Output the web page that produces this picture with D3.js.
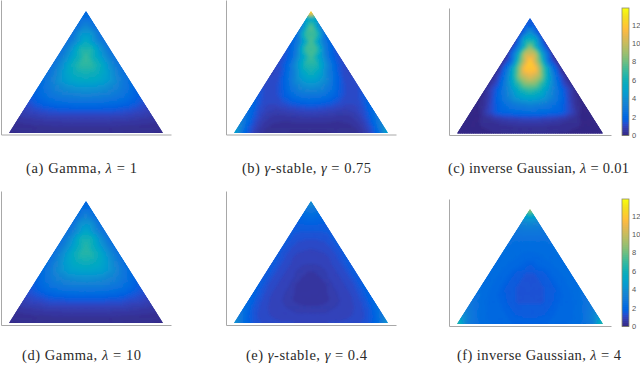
<!DOCTYPE html>
<html>
<head>
<meta charset="utf-8">
<style>
html, body { margin: 0; padding: 0; background: #fff; }
svg { display: block; }
</style>
</head>
<body>
<script src="https://cdn.jsdelivr.net/npm/d3@7"></script>
<script>
// density, on a triangular lattice of 17 rows from apex to base.
// each row goes from the edge to the centre line, the other half is the mirror image.
const gammaOne = [
    [2.0], [2.4], [2.3, 3.6], [2.4, 4.4], [2.5, 3.9, 5.5], [2.5, 4.2, 6.3],
    [2.5, 3.9, 5.5, 7.0], [2.5, 3.9, 5.6, 6.8], [2.4, 3.6, 5.0, 5.9, 6.2],
    [2.3, 3.3, 4.4, 5.1, 5.4], [2.0, 2.8, 3.5, 4.0, 4.3, 4.4], [1.7, 2.3, 2.8, 3.1, 3.3, 3.4],
    [1.3, 1.7, 2.0, 2.2, 2.3, 2.4, 2.4], [.9, 1.1, 1.3, 1.4, 1.5, 1.5, 1.5],
    [.55, .65, .7, .8, .8, .85, .85, .85], [.3, .35, .4, .4, .45, .45, .45, .45],
    [.2, .2, .2, .2, .2, .2, .2, .2, .2]
];
const stableHigh = [
    [13.8], [4.6], [2.8, 7.6], [2.1, 7.0], [1.7, 3.8, 7.4], [1.4, 2.9, 7.1],
    [1.2, 2.1, 4.6, 7.2], [1.1, 1.8, 3.9, 6.5], [1.0, 1.4, 2.8, 4.9, 6.0],
    [1.1, 1.2, 2.1, 3.8, 4.8], [1.3, 1.1, 1.6, 2.7, 3.6, 3.9], [1.6, 1.1, 1.3, 1.9, 2.5, 2.8],
    [1.9, 1.2, 1.1, 1.3, 1.6, 1.8, 1.9], [2.3, 1.3, .9, .8, .9, 1.0, 1.1],
    [2.9, 1.5, .8, .55, .5, .55, .6, .6], [3.8, 1.7, .8, .45, .35, .3, .3, .3],
    [5.2, 2.0, .9, .4, .3, .25, .2, .2, .2]
];
const inverseLow = [
    [1.6], [1.5], [.9, 4.0], [.7, 5.5], [.4, 4.0, 8.5], [.3, 4.0, 10],
    [.2, 2.2, 8.0, 12], [.2, 2.5, 7.0, 11.8], [.2, 1.8, 5.0, 9.3, 10.8],
    [.2, 1.3, 3.5, 6.3, 8.6], [.2, 1.2, 2.6, 4.2, 6.0, 6.8], [.1, .7, 2.0, 3.2, 4.4, 5.0],
    [.1, .4, 1.4, 2.2, 2.8, 3.2, 3.4], [.1, .2, 1.0, 1.8, 2.0, 2.2, 2.3],
    [.1, .1, .3, .5, .7, .8, .9, .9], [.1, .1, .2, .25, .3, .35, .4, .4],
    [.1, .1, .1, .15, .2, .2, .2, .25, .25]
];
const gammaTen = [
    [1.9], [2.3], [2.2, 3.4], [2.3, 4.2], [2.4, 3.8, 5.2], [2.4, 4.0, 6.0],
    [2.4, 3.8, 5.3, 6.6], [2.4, 3.8, 5.3, 6.5], [2.3, 3.5, 4.8, 5.6, 5.9],
    [2.2, 3.2, 4.2, 4.9, 5.1], [1.9, 2.7, 3.4, 3.8, 4.1, 4.2], [1.6, 2.2, 2.7, 3.0, 3.2, 3.2],
    [1.3, 1.6, 1.9, 2.1, 2.2, 2.3, 2.3], [.9, 1.1, 1.2, 1.4, 1.4, 1.5, 1.5],
    [.55, .65, .7, .8, .8, .85, .85, .85], [.3, .35, .4, .4, .45, .45, .45, .45],
    [.2, .2, .2, .2, .2, .2, .2, .2, .2]
];
const stableLow = [
    [4.2], [2.8], [2.0, 2.2], [1.7, 1.75], [1.6, 1.5, 1.5], [1.6, 1.35, 1.3],
    [1.6, 1.3, 1.15, 1.1], [1.6, 1.25, 1.05, 1.0], [1.7, 1.3, 1.05, .95, .9],
    [1.7, 1.3, 1.05, .85, .7], [1.7, 1.3, 1.05, .9, .65, .5], [1.8, 1.3, 1.05, .9, .6, .45],
    [1.9, 1.35, 1.05, .9, .7, .5, .45], [2.1, 1.4, 1.1, .95, .75, .55, .5],
    [2.4, 1.5, 1.15, 1, .9, .8, .7, .7], [3.0, 1.7, 1.25, 1.1, 1, .95, .9, .9],
    [4.4, 2.2, 1.5, 1.25, 1.15, 1.1, 1.1, 1.05, 1.05]
];
const inverseHigh = [
    [9.4], [4.8], [3.4, 3.6], [2.8, 2.9], [2.5, 2.5, 2.5], [2.4, 2.3, 2.3],
    [2.4, 2.25, 2.2, 2.15], [2.35, 2.2, 2.15, 2.0], [2.35, 2.2, 2.1, 1.9, 1.6],
    [2.35, 2.2, 2.0, 1.6, 1.5], [2.35, 2.2, 2.0, 1.6, 1.5, 1.45], [2.4, 2.2, 2.0, 1.6, 1.5, 1.45],
    [2.5, 2.25, 2.05, 1.8, 1.55, 1.45, 1.45], [2.8, 2.35, 2.1, 2.0, 1.7, 1.5, 1.5],
    [3.3, 2.5, 2.2, 2.05, 1.95, 1.7, 1.55, 1.55], [4.3, 2.9, 2.3, 2.1, 2.05, 1.95, 1.75, 1.7],
    [6.8, 3.3, 2.5, 2.25, 2.15, 2.05, 1.95, 1.8, 1.8]
];

const colorTicks = [0, 2, 4, 6, 8, 10, 12];
const colorMax = 13.8;

// matlab parula, 64 levels
const parula = [
    [.2081, .1663, .5292], [.2116, .1898, .5777], [.2123, .2138, .6270], [.2081, .2386, .6771],
    [.1959, .2645, .7279], [.1707, .2919, .7792], [.1253, .3242, .8303], [.0591, .3598, .8683],
    [.0117, .3875, .8820], [.0060, .4086, .8828], [.0165, .4266, .8786], [.0329, .4430, .8720],
    [.0498, .4586, .8641], [.0629, .4737, .8554], [.0723, .4887, .8467], [.0779, .5040, .8384],
    [.0793, .5200, .8312], [.0749, .5375, .8263], [.0641, .5570, .8240], [.0488, .5772, .8228],
    [.0343, .5966, .8199], [.0265, .6137, .8135], [.0239, .6287, .8038], [.0231, .6418, .7913],
    [.0228, .6535, .7768], [.0267, .6642, .7607], [.0384, .6743, .7436], [.0590, .6838, .7254],
    [.0843, .6928, .7062], [.1133, .7015, .6859], [.1453, .7098, .6646], [.1801, .7177, .6424],
    [.2178, .7250, .6193], [.2586, .7317, .5954], [.3022, .7376, .5712], [.3482, .7424, .5473],
    [.3953, .7459, .5244], [.4420, .7481, .5033], [.4871, .7491, .4840], [.5300, .7491, .4661],
    [.5709, .7485, .4494], [.6099, .7473, .4337], [.6473, .7456, .4188], [.6834, .7435, .4044],
    [.7184, .7411, .3905], [.7525, .7384, .3768], [.7858, .7356, .3633], [.8185, .7327, .3498],
    [.8507, .7299, .3360], [.8824, .7274, .3217], [.9139, .7258, .3063], [.9450, .7261, .2886],
    [.9739, .7314, .2666], [.9938, .7455, .2403], [.9990, .7653, .2164], [.9955, .7861, .1967],
    [.9880, .8066, .1794], [.9789, .8271, .1633], [.9697, .8481, .1475], [.9626, .8705, .1309],
    [.9589, .8949, .1132], [.9598, .9218, .0948], [.9661, .9514, .0755], [.9763, .9831, .0538]
].map(c => d3.rgb(c[0] * 255, c[1] * 255, c[2] * 255).formatHex());

const panels = [
    {values: gammaOne, tri: [9, 163, 11, 133], frame: [1, 171, 0, 134.5], text: ["(a) Gamma, ", "λ", " = 1"], textX: [26, 137], baseY: 173},
    {values: stableHigh, tri: [234, 388, 11, 133], frame: [226, 396, 0, 134.5], text: ["(b) ", "γ", "-stable, ", "γ", " = 0.75"], textX: [242, 371], baseY: 173},
    {values: inverseLow, tri: [457, 603, 18, 133.5], frame: [449, 611, 8, 135], text: ["(c) inverse Gaussian, ", "λ", " = 0.01"], textX: [448, 629], baseY: 173, bar: [8, 135.5]},
    {values: gammaTen, tri: [9, 163, 201, 323], frame: [1, 171, 191, 325], text: ["(d) Gamma, ", "λ", " = 10"], textX: [22, 141], baseY: 360},
    {values: stableLow, tri: [234, 388, 201, 323], frame: [226, 396, 191, 325], text: ["(e) ", "γ", "-stable, ", "γ", " = 0.4"], textX: [246, 367], baseY: 360},
    {values: inverseHigh, tri: [457, 603, 209, 324], frame: [449, 611, 199, 326], text: ["(f) inverse Gaussian, ", "λ", " = 4"], textX: [457, 621], baseY: 360, bar: [199, 326.5]}
];

const width = 640;
const height = 366;
const rows = 16;
const sub = 5;

const svg = d3.select("body").append("svg")
    .attr("width", width)
    .attr("height", height)
    .attr("viewBox", [0, 0, width, height]);

svg.append("filter").attr("id", "soft")
    .append("feGaussianBlur").attr("stdDeviation", 1.6);

const color = d3.scaleQuantize().domain([0, colorMax]).range(parula);

function valueAt(values, i, j) {
    return values[i][Math.min(j, i - j)];
}

function drawPanel(p, idx) {
    const x = d3.scaleLinear().domain([-1, 1]).range([p.tri[0], p.tri[1]]);
    const y = d3.scaleLinear().domain([0, 1]).range([p.tri[2], p.tri[3]]);
    const g = svg.append("g");

    g.append("clipPath").attr("id", `tri${idx}`)
        .append("path")
        .attr("d", d3.line()([[x(0), y(0)], [x(-1), y(1)], [x(1), y(1)]]) + "Z");

    // one path per colour level, so the shading stays a few dozen elements
    const paths = new Map();
    function addTriangle(a, b, c) {
        const v = (a.v + b.v + c.v) / 3;
        const key = color(v);
        if (!paths.has(key)) paths.set(key, d3.path());
        const path = paths.get(key);
        path.moveTo(x(a.u), y(a.t));
        path.lineTo(x(b.u), y(b.t));
        path.lineTo(x(c.u), y(c.t));
        path.closePath();
    }
    // barycentric mix of three lattice nodes
    function mix(a, b, c, m, n) {
        const k = sub - m - n;
        return {
            u: (a.u * k + b.u * m + c.u * n) / sub,
            t: (a.t * k + b.t * m + c.t * n) / sub,
            v: (a.v * k + b.v * m + c.v * n) / sub
        };
    }
    function shade(a, b, c) {
        for (let m = 0; m < sub; m++) {
            for (let n = 0; n < sub - m; n++) {
                addTriangle(mix(a, b, c, m, n), mix(a, b, c, m + 1, n), mix(a, b, c, m, n + 1));
                if (m + n < sub - 1) {
                    addTriangle(mix(a, b, c, m + 1, n), mix(a, b, c, m, n + 1), mix(a, b, c, m + 1, n + 1));
                }
            }
        }
    }
    const node = (i, j) => ({u: (j - i / 2) / (rows / 2), t: i / rows, v: valueAt(p.values, i, j)});
    for (let i = 0; i < rows; i++) {
        for (let j = 0; j <= i; j++) {
            shade(node(i, j), node(i + 1, j), node(i + 1, j + 1));
            if (j < i) shade(node(i, j), node(i, j + 1), node(i + 1, j + 1));
        }
    }

    // sharp copy underneath keeps the triangle edge solid under the softened copy
    const clipped = g.append("g").attr("clip-path", `url(#tri${idx})`);
    [null, "url(#soft)"].forEach(f => {
        clipped.append("g")
            .attr("filter", f)
            .selectAll("path")
            .data(parula.filter(c => paths.has(c)))
            .join("path")
            .attr("d", c => paths.get(c).toString())
            .attr("fill", c => c)
            .attr("stroke", c => c)
            .attr("stroke-width", 0.7);
    });

    // bare matlab axes: a left and a bottom line, no ticks
    const xAxis = d3.axisBottom(d3.scaleLinear().range([p.frame[0], p.frame[1]])).tickValues([]).tickSizeOuter(0);
    const yAxis = d3.axisLeft(d3.scaleLinear().range([p.frame[3], p.frame[2]])).tickValues([]).tickSizeOuter(0);
    g.append("g").attr("transform", `translate(0,${p.frame[3]})`).call(xAxis)
        .select(".domain").attr("stroke", "#a8a8a8").attr("stroke-width", 1);
    g.append("g").attr("transform", `translate(${p.frame[0]},0)`).call(yAxis)
        .select(".domain").attr("stroke", "#a8a8a8").attr("stroke-width", 1);

    const label = g.append("text")
        .attr("x", p.textX[0])
        .attr("y", p.baseY)
        .attr("textLength", p.textX[1] - p.textX[0])
        .attr("lengthAdjust", "spacing")
        .attr("font-family", "'Liberation Serif', serif")
        .attr("font-size", 14.5)
        .attr("fill", "#2a2a2a");
    p.text.forEach(t => {
        label.append("tspan")
            .attr("font-style", t === "λ" || t === "γ" ? "italic" : "normal")
            .text(t);
    });

    if (p.bar) drawColorbar(p.bar);
}

function drawColorbar(range) {
    const barX = 622;
    const barW = 7;
    const y = d3.scaleLinear().domain([0, colorMax]).range([range[1], range[0]]);
    const g = svg.append("g");
    const step = colorMax / parula.length;

    g.selectAll("rect")
        .data(parula)
        .join("rect")
        .attr("x", barX)
        .attr("width", barW)
        .attr("y", (c, i) => y((i + 1) * step))
        .attr("height", (c, i) => y(i * step) - y((i + 1) * step) + 0.5)
        .attr("fill", c => c);

    g.append("rect")
        .attr("x", barX)
        .attr("y", range[0])
        .attr("width", barW)
        .attr("height", range[1] - range[0])
        .attr("fill", "none")
        .attr("stroke", "#8d8d6e")
        .attr("stroke-width", 0.8);

    const axis = d3.axisRight(y).tickValues(colorTicks).tickSize(0).tickPadding(3);
    const ag = g.append("g").attr("transform", `translate(${barX + barW},0)`).call(axis);
    ag.select(".domain").remove();
    ag.selectAll("text")
        .attr("font-family", "'Liberation Sans', sans-serif")
        .attr("font-size", 7.5)
        .attr("fill", "#555");
}

panels.forEach(drawPanel);
</script>
</body>
</html>
